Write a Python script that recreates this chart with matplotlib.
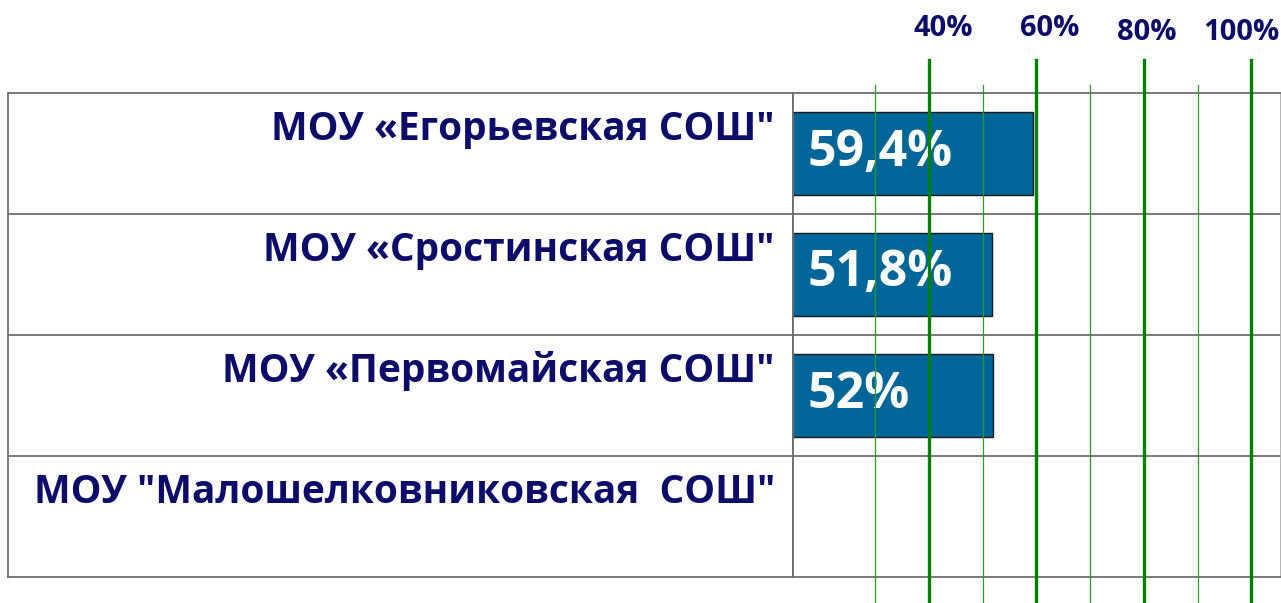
import matplotlib.pyplot as plt
import numpy as np

# data
schools = ['МОУ «Егорьевская СОШ"', 'МОУ «Сростинская СОШ"',
           'МОУ «Первомайская СОШ"', 'МОУ "Малошелковниковская  СОШ"']
values = [59.4, 51.8, 52.0, np.nan]
value_labels = ['59,4%', '51,8%', '52%', '']
major_ticks = [40, 60, 80, 100]
minor_ticks = [30, 50, 70, 90]
tick_labels = ['40%', '60%', '80%', '100%']

navy = '#0c0c6a'
bar_color = '#006699'
line_gray = '#6e6e6e'
plt.rcParams['font.family'] = ['Open Sans', 'DejaVu Sans']

W, H = 1281, 603
fig = plt.figure(figsize=(W / 100, H / 100), dpi=100)

def box(x0, x1, ytop, ybot):
    return [x0 / W, 1 - ybot / H, (x1 - x0) / W, (ybot - ytop) / H]

ax_lab = fig.add_axes(box(8, 793, 93, 577))
ax = fig.add_axes(box(793, 1281, 93, 577), sharey=ax_lab)

y = np.arange(len(schools))

# left label table
ax_lab.set_xlim(0, 1)
ax_lab.set_ylim(len(schools) - 0.5, -0.5)
for s in ax_lab.spines.values():
    s.set_color(line_gray)
    s.set_linewidth(1.3)
ax_lab.set_xticks([])
ax_lab.tick_params(left=False, labelleft=False)
for i, name in enumerate(schools):
    ax_lab.text(0.977, i - 0.2, name, ha='right', va='center',
                fontsize=28, fontweight='bold', color=navy)
for b in y[:-1] + 0.5:
    ax_lab.axhline(b, color=line_gray, lw=1.3)

# bars
ax.set_xlim(14.7, 105.5)
ax.barh(y, values, height=0.68, color=bar_color, edgecolor='#1a1a1a', lw=1, zorder=2)
for i, lab in enumerate(value_labels):
    if lab:
        ax.annotate(lab, xy=(14.7, i), xytext=(14, 1), textcoords='offset pixels',
                    ha='left', va='center', fontsize=36, fontweight='bold', color='white', zorder=3)
for b in y[:-1] + 0.5:
    ax.axhline(b, color=line_gray, lw=1.3, zorder=1)
for s in ax.spines.values():
    s.set_color(line_gray)
    s.set_linewidth(1.3)
ax.spines['right'].set_color('#b0b0b0')
ax.set_xticks([])
ax.tick_params(left=False, labelleft=False)

# green reference lines, running past the table
for t in minor_ticks:
    ax.axvline(t, ymin=-0.06, ymax=1.017, color='#2e9a2e', lw=0.9, clip_on=False, zorder=4)
for t in major_ticks:
    ax.axvline(t, ymin=-0.06, ymax=1.068, color='#008000', lw=2.4, clip_on=False, zorder=4)

offsets = [(14, 64), (13, 64), (3, 60), (-10, 60)]
for t, lab, (dx, dy) in zip(major_ticks, tick_labels, offsets):
    ax.annotate(lab, xy=(t, -0.5), xycoords='data', xytext=(dx, dy), textcoords='offset pixels',
                ha='center', va='center', fontsize=21, fontweight='bold', color=navy,
                annotation_clip=False)

fig.savefig('out.png', dpi=100)
